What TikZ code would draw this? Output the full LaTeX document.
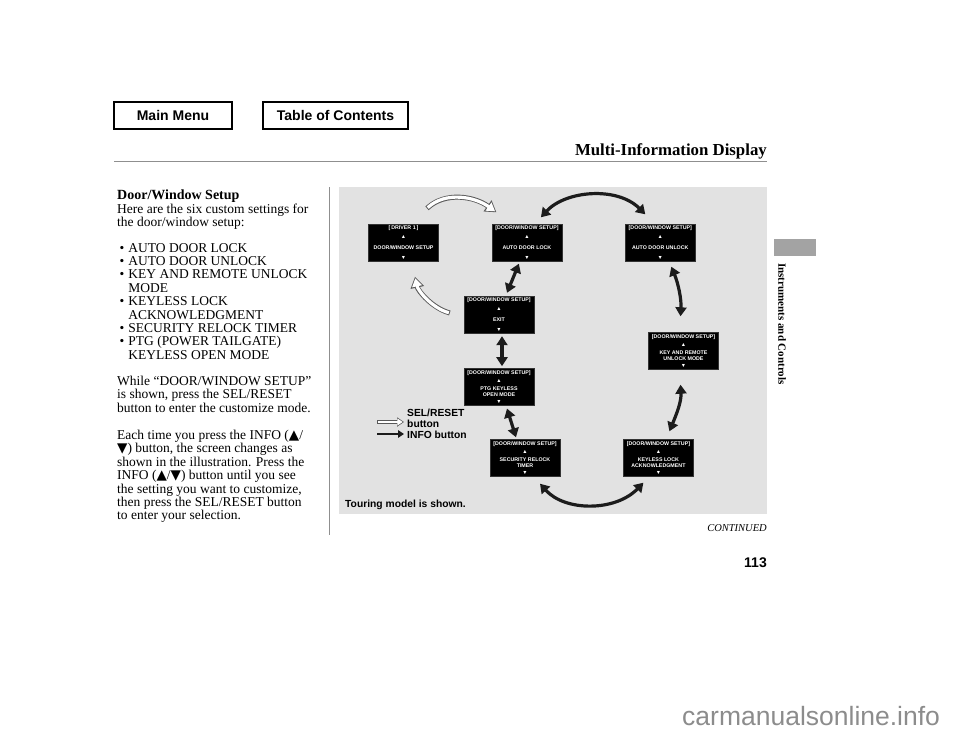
\documentclass[tikz,border=0pt]{standalone}
\usepackage{fontspec}
\setmainfont{Liberation Serif}
\setsansfont{Liberation Sans}
\newfontfamily\symfont{DejaVu Sans}
\usepackage{tikz}
\usetikzlibrary{arrows.meta, positioning, calc}

\definecolor{panelgray}{HTML}{E2E2E2}
\definecolor{rulegray}{HTML}{8F8F8F}
\definecolor{tabgray}{HTML}{A3A3A3}
\definecolor{wmgray}{HTML}{8C8C8C}
\definecolor{ink}{HTML}{1C1C1C}

\begin{document}
\begin{tikzpicture}[
  x=1pt, y=-1pt,
  navbtn/.style = {draw, line width=1.2pt, fill=white, minimum height=27pt, inner sep=0pt,
                   font=\sffamily\bfseries\fontsize{14}{16}\selectfont},
  body/.style   = {inner sep=0pt, anchor=base west, font=\fontsize{13.5}{13.4}\selectfont},
  screen/.style = {draw=black!80, fill=black, text=white, minimum width=70pt, minimum height=37pt,
                   inner sep=0pt, align=center, font=\sffamily\bfseries\fontsize{5.3}{6.5}\selectfont},
  infoarr/.style = {draw=ink, line width=3.2pt,
                    {Triangle[length=9pt,width=11pt]}-{Triangle[length=9pt,width=11pt]}},
  selout/.style = {draw=black!65, line width=5pt, -{Triangle[length=11pt,width=13pt]}},
  selin/.style  = {draw=white, line width=3.2pt, shorten <=1pt, shorten >=1.6pt,
                   -{Triangle[length=8.2pt,width=9.6pt]}},
  legtxt/.style = {inner sep=0pt, anchor=base west, font=\sffamily\bfseries\fontsize{10.3}{11}\selectfont},
]
  \useasboundingbox (0,0) rectangle (960,742);

  % Header
  \node[navbtn, minimum width=118pt] (mainmenu) at (173,115.5) {Main Menu};
  \node[navbtn, minimum width=145pt] (toc) at (335.5,115.5) {Table of Contents};
  \node[inner sep=0pt, anchor=base east, font=\bfseries\fontsize{16.8}{18}\selectfont] (title) at (767,155)
    {Multi-Information Display};
  \draw[rulegray, line width=0.8pt] (114,161) -- (767,161);

  % Left column text
  \node[body, font=\bfseries\fontsize{14}{14}\selectfont] (dwhead) at (117,199.5) {Door/Window Setup};
  \node[body] (intro) at (117,213) {\begin{tabular}[t]{@{}l@{}}
    Here are the six custom settings for\\
    the door/window setup:\end{tabular}};
  \node[body] (setlist) at (119.5,252) {\begin{tabular}[t]{@{}l@{\hspace{4pt}}l@{}}
    \textbullet & AUTO DOOR LOCK\\
    \textbullet & AUTO DOOR UNLOCK\\
    \textbullet & KEY AND REMOTE UNLOCK\\
                & MODE\\
    \textbullet & KEYLESS LOCK\\
                & ACKNOWLEDGMENT\\
    \textbullet & SECURITY RELOCK TIMER\\
    \textbullet & PTG (POWER TAILGATE)\\
                & KEYLESS OPEN MODE\end{tabular}};
  \node[body] (whilepar) at (117,385.5) {\begin{tabular}[t]{@{}l@{}}
    While “DOOR/WINDOW SETUP”\\
    is shown, press the SEL/RESET\\
    button to enter the customize mode.\end{tabular}};
  \node[body] (eachpar) at (117,439.5) {\begin{tabular}[t]{@{}l@{}}
    Each time you press the INFO (\smash{\symfont▲}/\\
    \smash{\symfont▼}) button, the screen changes as\\
    shown in the illustration. Press the\\
    INFO (\smash{\symfont▲}/\smash{\symfont▼}) button until you see\\
    the setting you want to customize,\\
    then press the SEL/RESET button\\
    to enter your selection.\end{tabular}};
  \draw[rulegray, line width=1.3pt] (329.5,187) -- (329.5,535);

  % Illustration panel
  \fill[panelgray] (339,187) rectangle (767,514);

  % Screens
  \node[screen] (driver) at (403.5,243)
    {[\,DRIVER 1\,]\\[2.5pt]▲\\[4.5pt]DOOR/WINDOW SETUP\\[3.5pt]▼};
  \node[screen, right=53pt of driver] (lock)
    {[DOOR/WINDOW SETUP]\\[2.5pt]▲\\[4.5pt]AUTO DOOR LOCK\\[3.5pt]▼};
  \node[screen, right=63pt of lock] (unlock)
    {[DOOR/WINDOW SETUP]\\[2.5pt]▲\\[4.5pt]AUTO DOOR UNLOCK\\[3.5pt]▼};
  \node[screen] (exit) at (499,314.5)
    {[DOOR/WINDOW SETUP]\\[2.5pt]▲\\[4.5pt]EXIT\\[3.5pt]▼};
  \node[screen, below=35pt of exit] (ptg)
    {[DOOR/WINDOW SETUP]\\[1.8pt]▲\\[1.2pt]PTG KEYLESS\\OPEN MODE\\▼};
  \node[screen] (key) at (683.5,351)
    {[DOOR/WINDOW SETUP]\\[1.8pt]▲\\[1.2pt]KEY AND REMOTE\\UNLOCK MODE\\▼};
  \node[screen] (security) at (525,458)
    {[DOOR/WINDOW SETUP]\\[1.8pt]▲\\[1.2pt]SECURITY RELOCK\\TIMER\\▼};
  \node[screen, right=63pt of security] (keyless)
    {[DOOR/WINDOW SETUP]\\[1.8pt]▲\\[1.2pt]KEYLESS LOCK\\ACKNOWLEDGMENT\\▼};

  % SEL/RESET button paths
  \draw[selout] ([shift={(23.5,-16)}]driver.north) .. controls +(18,-17) and +(-22,-16) .. ([shift={(-30.5,-12)}]lock.north);
  \draw[selin]  ([shift={(23.5,-16)}]driver.north) .. controls +(18,-17) and +(-22,-16) .. ([shift={(-30.5,-12)}]lock.north);
  \draw[selout] ([shift={(-14,-1.5)}]exit.west) .. controls +(-18,-5) and +(3,14) .. ([shift={(11.5,15)}]driver.south);
  \draw[selin]  ([shift={(-14,-1.5)}]exit.west) .. controls +(-18,-5) and +(3,14) .. ([shift={(11.5,15)}]driver.south);

  % INFO button paths
  \draw[infoarr] ([shift={(14,-7)}]lock.north) .. controls +(25,-27) and +(-28,-28) .. ([shift={(-15,-10)}]unlock.north);
  \draw[infoarr] ([shift={(-8,2)}]lock.south) -- ([shift={(8,-3)}]exit.north);
  \draw[infoarr] ([shift={(3,3)}]exit.south) -- ([shift={(3,-2)}]ptg.north);
  \draw[infoarr] ([shift={(8,3)}]ptg.south) -- ([shift={(-9,-2)}]security.north);
  \draw[infoarr] ([shift={(15,7)}]security.south) .. controls +(25,28) and +(-28,29) .. ([shift={(-15,6)}]keyless.south);
  \draw[infoarr] ([shift={(11,5)}]unlock.south) .. controls +(7,17) and +(1,-17) .. ([shift={(-3,-16)}]key.north);
  \draw[infoarr] ([shift={(-3,15)}]key.south) .. controls +(1,17) and +(7,-17) .. ([shift={(11,-8)}]keyless.north);

  % Legend
  \node[legtxt] (sellbl) at (407,416.5) {\begin{tabular}[t]{@{}l@{}}SEL/RESET\\button\end{tabular}};
  \node[legtxt] (infolbl) at (407,438.5) {INFO button};
  \coordinate (selstart) at (377,422);
  \coordinate (infostart) at (377,434);
  \draw[selout, line width=4pt, shorten >=3pt, -{Triangle[length=7pt,width=9pt]}] (selstart) -- (selstart -| sellbl.west);
  \draw[selin, line width=2.6pt, shorten <=0.8pt, shorten >=4.3pt, -{Triangle[length=5.3pt,width=6.6pt]}] (selstart) -- (selstart -| sellbl.west);
  \draw[draw=ink, line width=2.6pt, shorten >=3pt, -{Triangle[length=6pt,width=7.5pt]}] (infostart) -- (infostart -| infolbl.west);
  \node[legtxt] (touring) at (345,507) {Touring model is shown.};

  % Footer and side tab
  \node[inner sep=0pt, anchor=base east, font=\itshape\fontsize{10.5}{12}\selectfont] (cont) at (767,531) {CONTINUED};
  \node[inner sep=0pt, anchor=base east, font=\sffamily\bfseries\fontsize{14}{16}\selectfont] (pagenum) at (767,567) {113};
  \fill[tabgray] (774,239) rectangle (816,256);
  \node[inner sep=0pt, rotate=-90, font=\bfseries\fontsize{11}{12}\selectfont] (section) at (782,324) {Instruments and Controls};
  \node[inner sep=0pt, anchor=base west, text=wmgray, font=\sffamily\fontsize{26.5}{28}\selectfont] (wm) at (682,725) {carmanualsonline.info};
\end{tikzpicture}
\end{document}
